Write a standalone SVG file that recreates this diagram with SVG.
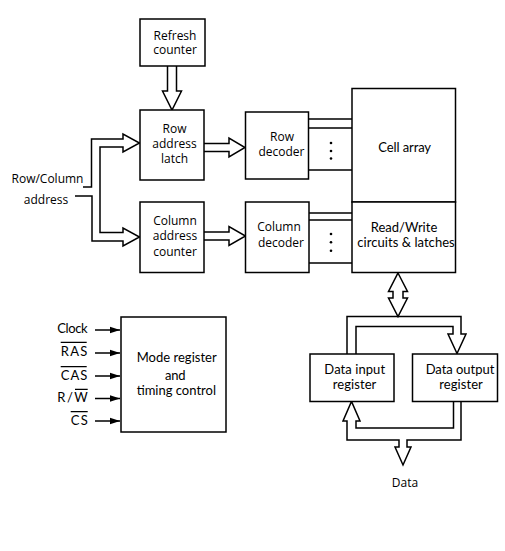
<svg xmlns="http://www.w3.org/2000/svg" width="505" height="551" viewBox="0 0 505 551">
<defs>
<style>
.box{fill:#fff;stroke:#000;stroke-width:1.5}
.ln{fill:none;stroke:#000;stroke-width:1.5}
.thin{fill:none;stroke:#000;stroke-width:1.2}
.t1{font-family:"Open Sans","DejaVu Sans",sans-serif;font-size:12px;fill:#000;text-anchor:middle}
.t2{font-family:Lato,"Liberation Sans",sans-serif;font-size:13px;fill:#000;text-anchor:middle}
.t3{font-family:Lato,"Liberation Sans",sans-serif;font-size:13px;fill:#000;text-anchor:end}
</style>
<marker id="ah" markerWidth="10" markerHeight="8" refX="10" refY="4" orient="auto" markerUnits="userSpaceOnUse">
<path d="M0,0.8 L10,4 L0,7.2 Z" fill="#000"/>
</marker>
</defs>
<rect width="505" height="551" fill="#fff"/>

<g id="connectors">
<path class="ln" d="M167.5 66 V91 H162.5 L172 110 L181.5 91 H176.5 V66"/>
<path class="ln" d="M83 187 H91.5 V139 H123 V134 L139.5 143 L123 152 V147 H100 V232.5 H123 V228 L139.5 237 L123 246 V241 H92 V196 H75"/>
<path class="ln" d="M204 143.5 H229 V138 L245 147.5 L229 157 V151.5 H204"/>
<path class="ln" d="M204 232 H229 V226.5 L245.5 236 L229 245.5 V240 H204"/>
<path class="ln" d="M308.5 119 H352 M308.5 128 H352 M308.5 170 H352"/>
<path class="ln" d="M308.5 213 H352 M308.5 220 H352 M308.5 263 H352"/>
<g fill="#000">
<circle cx="331" cy="143" r="1.3"/><circle cx="331" cy="151" r="1.3"/><circle cx="331" cy="158.5" r="1.3"/>
<circle cx="331" cy="234" r="1.3"/><circle cx="331" cy="242.3" r="1.3"/><circle cx="331" cy="250.7" r="1.3"/>
</g>
<path class="ln" d="M398 273 L407.5 291.5 H403 V298 H407.5 L398 316.5 L388.5 298 H393 V291.5 H388.5 Z"/>
<path class="ln" d="M347 354 V316.5 H461 V334 H466 L457 353.5 L448 334 H453 V326.5 H356 V354"/>
<path class="ln" d="M453.5 401.5 V428 H356 V421 H360 L351.5 401.5 L343 421 H347 V440 H399 V447 H395 L403 465 L411 447 H407 V440 H461 V401.5"/>
<path class="ln" d="M95 330 H120" marker-end="url(#ah)"/>
<path class="ln" d="M95 353 H120" marker-end="url(#ah)"/>
<path class="ln" d="M95 376 H120" marker-end="url(#ah)"/>
<path class="ln" d="M95 398.5 H120" marker-end="url(#ah)"/>
<path class="ln" d="M95 421 H120" marker-end="url(#ah)"/>
</g>

<g id="refresh-counter">
<rect class="box" x="140" y="19" width="65" height="47"/>
<text class="t1" x="175" y="39.5">Refresh</text>
<text class="t1" x="175" y="54">counter</text>
</g>
<g id="row-address-latch">
<rect class="box" x="140" y="110" width="64" height="70"/>
<text class="t1" x="174.5" y="132.5">Row</text>
<text class="t1" x="174.5" y="148">address</text>
<text class="t1" x="174.5" y="163">latch</text>
</g>
<g id="column-address-counter">
<rect class="box" x="140" y="202" width="64" height="70.5"/>
<text class="t1" x="175" y="224.5">Column</text>
<text class="t1" x="175" y="240">address</text>
<text class="t1" x="175" y="255.5">counter</text>
</g>
<g id="row-column-address">
<text class="t1" x="47.5" y="183">Row/Column</text>
<text class="t1" x="46" y="204">address</text>
</g>
<g id="row-decoder">
<rect class="box" x="245.5" y="112" width="63" height="67"/>
<text class="t1" x="282" y="140.7">Row</text>
<text class="t1" x="281.5" y="155.7">decoder</text>
</g>
<g id="column-decoder">
<rect class="box" x="245.5" y="202" width="63.5" height="70.5"/>
<text class="t1" x="279" y="230.7">Column</text>
<text class="t1" x="281" y="246.7">decoder</text>
</g>
<g id="cell-array">
<rect class="box" x="352" y="88.5" width="103.5" height="113.5"/>
<text class="t2" x="404.7" y="151.5" textLength="52.7">Cell array</text>
</g>
<g id="read-write-circuits">
<rect class="box" x="352" y="202" width="103.5" height="70.5"/>
<text class="t2" x="404" y="232" textLength="66.5">Read/Write</text>
<text class="t2" x="406" y="247" textLength="97.5">circuits &amp; latches</text>
</g>
<g id="mode-register">
<rect class="box" x="121" y="317" width="105" height="115"/>
<text class="t2" x="176.7" y="361.5" textLength="80">Mode register</text>
<text class="t2" x="175.3" y="380" textLength="20.7">and</text>
<text class="t2" x="176.3" y="395" textLength="79.3">timing control</text>
</g>
<g id="control-signals">
<text class="t3" x="87.7" y="333.3" textLength="30.4">Clock</text>
<text class="t3" x="87.3" y="356" textLength="26.6">RAS</text>
<text class="t3" x="87.3" y="380" textLength="26.6">CAS</text>
<text class="t3" x="87.7" y="401.7" textLength="30.4">R/W</text>
<text class="t3" x="87.7" y="425" textLength="17">CS</text>
<path class="thin" d="M60.7 342.3 H86.7 M60.7 366.7 H86.7 M75 389.3 H87.7 M70.7 411.7 H87.7"/>
</g>
<g id="data-input-register">
<rect class="box" x="310" y="354" width="84" height="47.5"/>
<text class="t2" x="354.7" y="373.5" textLength="60.7">Data input</text>
<text class="t2" x="354.5" y="388.5" textLength="43.7">register</text>
</g>
<g id="data-output-register">
<rect class="box" x="412.5" y="354" width="85" height="47.5"/>
<text class="t2" x="460" y="373.5" textLength="68.7">Data output</text>
<text class="t2" x="461" y="388.5" textLength="43.7">register</text>
</g>
<g id="data">
<text class="t1" x="405" y="487">Data</text>
</g>
</svg>
